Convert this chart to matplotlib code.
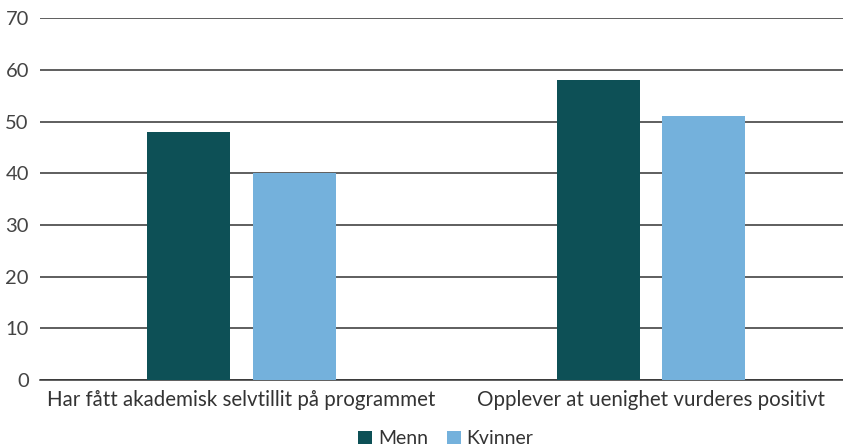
import matplotlib
matplotlib.use("Agg")
import matplotlib.pyplot as plt
import numpy as np

categories = ["Har fått akademisk selvtillit på programmet",
              "Opplever at uenighet vurderes positivt"]
series_names = ["Menn", "Kvinner"]
menn = [48, 58]
kvinner = [40, 51]
y_ticks = [0, 10, 20, 30, 40, 50, 60, 70]

colors = ["#0D5056", "#74B1DC"]

plt.rcParams["font.family"] = ["Lato", "DejaVu Sans"]

fig = plt.figure(figsize=(8.43, 4.47), dpi=100)
ax = fig.add_axes([40 / 843, 1 - 380 / 447, 803 / 843, (380 - 18.3) / 447])

x = np.arange(len(categories))
width = 0.203
offset = 0.129
ax.bar(x - offset, menn, width, color=colors[0], label=series_names[0], zorder=3)
ax.bar(x + offset, kvinner, width, color=colors[1], label=series_names[1], zorder=3)

ax.set_ylim(0, 70)
ax.set_xlim(-0.492, 1.469)
ax.set_yticks(y_ticks)
ax.set_yticklabels([str(t) for t in y_ticks], fontsize=14.5, color="#444444")
ax.set_xticks(x)
ax.set_xticklabels(categories, fontsize=14.8, color="#333333")
ax.tick_params(axis="both", length=0)
ax.tick_params(axis="y", pad=8)
ax.tick_params(axis="x", pad=7)

ax.yaxis.grid(True, color="#333333", linewidth=1.1, zorder=1)
for s in ["top", "right", "left"]:
    ax.spines[s].set_visible(False)
ax.spines["bottom"].set_color("#333333")
ax.spines["bottom"].set_linewidth(1.1)

fig.legend(loc="lower center", bbox_to_anchor=(0.529, -0.04), ncol=2, frameon=False,
           fontsize=14, handlelength=0.7, handleheight=0.7, handletextpad=0.3,
           columnspacing=1.0, labelcolor="#333333")

fig.savefig("out.png", dpi=100)
